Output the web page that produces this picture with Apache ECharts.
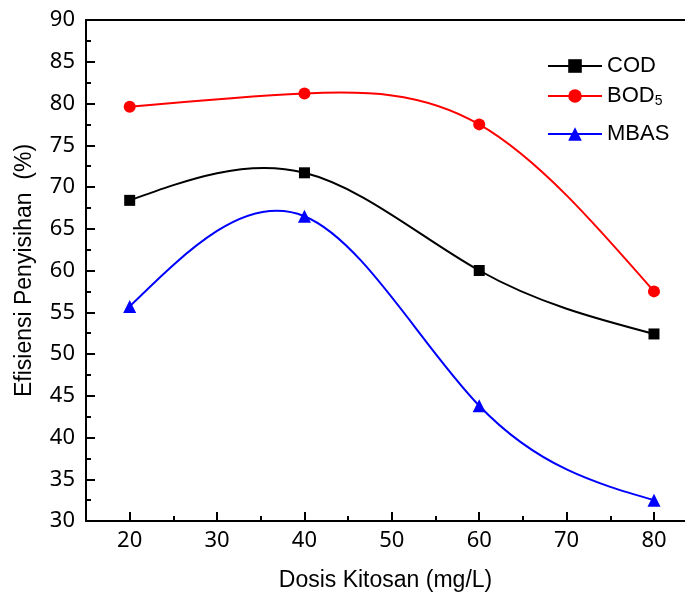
<!DOCTYPE html>
<html>
<head>
<meta charset="utf-8">
<script src="https://cdn.jsdelivr.net/npm/echarts@6/dist/echarts.min.js"></script>
<style>html,body{margin:0;padding:0;background:#fff}#c{width:685px;height:601px}</style>
</head>
<body>
<div id="c"></div>
<script>
const doses = [20, 40, 60, 80];
const cod = [68.4, 71.7, 60.0, 52.4];
const bod5 = [79.6, 81.2, 77.5, 57.5];
const mbas = [55.7, 66.5, 43.8, 32.5];
const xMajorTicks = [20, 30, 40, 50, 60, 70, 80];
const xMinorTicks = [25, 35, 45, 55, 65, 75];
const seriesNames = ['COD', 'BOD5', 'MBAS'];
const seriesColors = ['#000000', '#ff0000', '#0000ff'];

const pairs = v => doses.map((d, i) => [d, v[i]]);

// Natural cubic spline slopes (like Origin's spline connector), in data units
function splineSlopes(xs, ys) {
  const n = xs.length, h = [], M = new Array(n).fill(0);
  for (let i = 0; i < n - 1; i++) h.push(xs[i + 1] - xs[i]);
  const a = [], b = [], c = [], d = [];
  for (let i = 1; i < n - 1; i++) {
    a.push(h[i - 1]); b.push(2 * (h[i - 1] + h[i])); c.push(h[i]);
    d.push(6 * ((ys[i + 1] - ys[i]) / h[i] - (ys[i] - ys[i - 1]) / h[i - 1]));
  }
  const m = b.length;
  for (let i = 1; i < m; i++) {
    const w = a[i] / b[i - 1];
    b[i] -= w * c[i - 1]; d[i] -= w * d[i - 1];
  }
  const sol = new Array(m);
  for (let i = m - 1; i >= 0; i--) sol[i] = (d[i] - (i < m - 1 ? c[i] * sol[i + 1] : 0)) / b[i];
  for (let i = 0; i < m; i++) M[i + 1] = sol[i];
  const s = [];
  for (let i = 0; i < n; i++) {
    if (i < n - 1) s.push((ys[i + 1] - ys[i]) / h[i] - h[i] * (2 * M[i] + M[i + 1]) / 6);
    else s.push((ys[i] - ys[i - 1]) / h[i - 1] + h[i - 1] * (M[i - 1] + 2 * M[i]) / 6);
  }
  return s;
}

function curveSeries(name, values, color) {
  const slopes = splineSlopes(doses, values);
  return {
    name: name, type: 'custom', z: 1, silent: true,
    data: pairs(values),
    renderItem: function (params, api) {
      const i = params.dataIndex;
      if (i >= doses.length - 1) return null;
      const x0 = doses[i], x1 = doses[i + 1], y0 = values[i], y1 = values[i + 1];
      const hh = x1 - x0;
      const p0 = api.coord([x0, y0]);
      const p1 = api.coord([x1, y1]);
      const c0 = api.coord([x0 + hh / 3, y0 + slopes[i] * hh / 3]);
      const c1 = api.coord([x1 - hh / 3, y1 - slopes[i + 1] * hh / 3]);
      return {
        type: 'bezierCurve',
        shape: { x1: p0[0], y1: p0[1], x2: p1[0], y2: p1[1],
                 cpx1: c0[0], cpy1: c0[1], cpx2: c1[0], cpy2: c1[1] },
        style: { stroke: color, lineWidth: 2, fill: null }
      };
    }
  };
}

const tickFont = { fontFamily: 'Noto Sans', fontSize: 22, color: '#000' };
function legendFor(idx, top) {
  return {
    left: 547, top: top, padding: 0, orient: 'vertical', itemWidth: 54, itemHeight: 17,
    textStyle: { fontFamily: 'Liberation Sans', fontSize: 22, color: '#000',
      rich: { sub: { fontFamily: 'Liberation Sans', fontSize: 14, color: '#000', padding: [10, 0, 0, 0] } } },
    formatter: n => n === 'BOD5' ? 'BOD{sub|5}' : n,
    data: [{ name: seriesNames[idx], lineStyle: { color: seriesColors[idx], width: 2, opacity: 1 } }]
  };
}

function markerSeries(idx, values, symbol, size) {
  return {
    name: seriesNames[idx], type: 'line', z: 3, smooth: false, data: pairs(values),
    symbol: symbol, symbolSize: size, color: seriesColors[idx],
    lineStyle: { width: 2, color: seriesColors[idx], opacity: 0 },
    itemStyle: { color: seriesColors[idx], opacity: 1 }
  };
}

const chart = echarts.init(document.getElementById('c'), null, { renderer: 'canvas' });
chart.setOption({
  animation: false,
  backgroundColor: '#fff',
  grid: { left: 86, right: 0, top: 20, bottom: 80, containLabel: false },
  legend: [ legendFor(0, 55), legendFor(1, 85), legendFor(2, 123) ],
  xAxis: [
    {
      type: 'value', min: 15, max: 83.55, position: 'bottom',
      name: 'Dosis Kitosan (mg/L)', nameLocation: 'middle', nameGap: 48,
      nameTextStyle: { fontFamily: 'Liberation Sans', fontSize: 23, color: '#000' },
      axisLine: { show: true, onZero: false, lineStyle: { color: '#000', width: 2 } },
      axisTick: { show: true, inside: true, length: 9, customValues: xMajorTicks, lineStyle: { color: '#000', width: 2 } },
      axisLabel: Object.assign({ margin: 9, customValues: xMajorTicks }, tickFont),
      splitLine: { show: false }
    },
    {
      type: 'value', min: 15, max: 83.55, position: 'bottom',
      axisLine: { show: false },
      axisTick: { show: true, inside: true, length: 5, customValues: xMinorTicks, lineStyle: { color: '#000', width: 2 } },
      axisLabel: { show: false, customValues: xMinorTicks },
      splitLine: { show: false }
    },
    {
      type: 'value', min: 15, max: 83.55, position: 'top',
      axisLine: { show: true, onZero: false, lineStyle: { color: '#000', width: 2 } },
      axisTick: { show: false }, axisLabel: { show: false }, splitLine: { show: false }
    }
  ],
  yAxis: [
    {
      type: 'value', min: 30, max: 90, interval: 5, position: 'left',
      name: 'Efisiensi Penyisihan  (%)', nameLocation: 'middle', nameGap: 50, nameRotate: 90,
      nameTextStyle: { fontFamily: 'Liberation Sans', fontSize: 23, color: '#000' },
      axisLine: { show: true, onZero: false, lineStyle: { color: '#000', width: 2 } },
      axisTick: { show: true, inside: true, length: 9, lineStyle: { color: '#000', width: 2 } },
      minorTick: { show: true, splitNumber: 2, length: 5, lineStyle: { color: '#000', width: 2 } },
      axisLabel: Object.assign({ margin: 11 }, tickFont),
      splitLine: { show: false }
    }
  ],
  series: [
    markerSeries(0, cod, 'rect', 11),
    markerSeries(1, bod5, 'circle', 12),
    markerSeries(2, mbas, 'triangle', 13),
    curveSeries(seriesNames[0], cod, seriesColors[0]),
    curveSeries(seriesNames[1], bod5, seriesColors[1]),
    curveSeries(seriesNames[2], mbas, seriesColors[2])
  ]
});
</script>
</body>
</html>
